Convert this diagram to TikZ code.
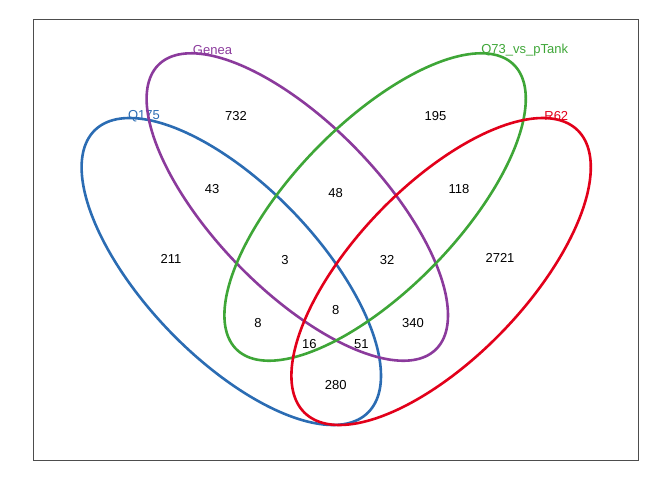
\documentclass[tikz,border=0pt]{standalone}
\usepackage{fontspec}
\setmainfont{Liberation Sans}
\definecolor{setblue}{HTML}{2B6CB3}
\definecolor{setpurple}{HTML}{8B3A9C}
\definecolor{setgreen}{HTML}{3EA637}
\definecolor{setred}{HTML}{E2001A}
\definecolor{framegray}{HTML}{4D4D4D}
% ellipse given by centre (#2,#3) and conjugate half-axes (#4,#5), (0,#6)
\newcommand{\vennset}[6]{%
  \draw[setline,#1] plot[domain=0:358,samples=180,smooth cycle]
    ({#2+#4*cos(\x)},{#3+#5*cos(\x)+#6*sin(\x)});}
\begin{document}
\begin{tikzpicture}[x=1pt,y=-1pt,
  setline/.style={line width=2.6pt},
  count/.style={font=\fontsize{13}{13}\selectfont,text=black,inner sep=0pt},
  setlabel/.style={font=\fontsize{13}{13}\selectfont,inner sep=0pt}]
\useasboundingbox (0,0) rectangle (672,480);
\draw[framegray,line width=1pt] (33.7,19) rectangle (638,460.3);

% category labels (drawn beneath the outlines)
\node[setlabel,text=setblue]   (lq175) at (144,115.7) {Q175};
\node[setlabel,text=setpurple] (lgenea) at (212.5,50.5) {Genea};
\node[setlabel,text=setgreen]  (lq73) at (524.7,50.5) {Q73\_vs\_pTank};
\node[setlabel,text=setred]    (lr62) at (556.3,115.7) {R62};

% region counts
\node[count] (c732)  at (236,116) {732};
\node[count] (c195)  at (435.5,116) {195};
\node[count] (c43)   at (212,189) {43};
\node[count] (c48)   at (335.7,193) {48};
\node[count] (c118)  at (459,189) {118};
\node[count] (c211)  at (171,259) {211};
\node[count] (c3)    at (285,260) {3};
\node[count] (c32)   at (387,260) {32};
\node[count] (c2721) at (500,258) {2721};
\node[count] (c8a)   at (258,323.3) {8};
\node[count] (c8b)   at (335.7,310) {8};
\node[count] (c340)  at (413,323.3) {340};
\node[count] (c16)   at (309.3,343.7) {16};
\node[count] (c51)   at (361.3,343.7) {51};
\node[count] (c280)  at (335.7,385) {280};

% set outlines
\vennset{setblue}{231.3}{271.5}{149.7}{104.2}{112.7}
\vennset{setpurple}{297.3}{207}{150.7}{108.2}{109.2}
\vennset{setgreen}{375.1}{207}{-150.7}{108.2}{109.2}
\vennset{setred}{441.1}{271.5}{-149.7}{104.2}{112.7}
\end{tikzpicture}
\end{document}
